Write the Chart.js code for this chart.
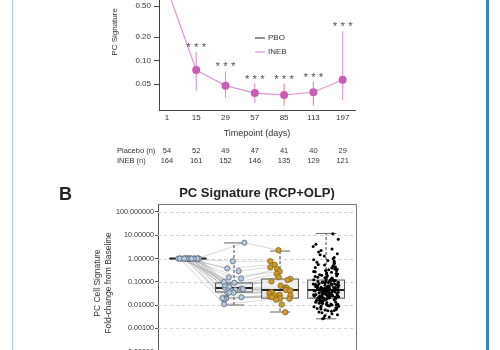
<!DOCTYPE html>
<html>
<head>
<meta charset="utf-8">
<script src="https://cdn.jsdelivr.net/npm/chart.js@4.4.1/dist/chart.umd.min.js"></script>
<style>
  html, body { margin: 0; padding: 0; background: #fff; }
  body { width: 500px; height: 350px; overflow: hidden; position: relative; }
  #topChart { position: absolute; left: 0; top: -54px; }
  #boxChart { position: absolute; left: 0; top: 170px; }
  .rule-left { position: absolute; left: 12px; top: 0; width: 1px; height: 350px; background: #a9d1ea; }
  .rule-right { position: absolute; left: 486px; top: 0; width: 3px; height: 350px; background: #2f8bc1; }
</style>
</head>
<body>
<div class="rule-left"></div>
<div class="rule-right"></div>
<canvas id="topChart" width="500" height="224"></canvas>
<canvas id="boxChart" width="500" height="200"></canvas>
<script>
// --- panel A: PC signature over time ---
const days = ['1', '15', '29', '57', '85', '113', '197'];
const inebMean = [0.85, 0.076, 0.048, 0.0385, 0.0365, 0.0395, 0.057];
const inebHigh = [null, 0.129, 0.073, 0.051, 0.051, 0.054, 0.239];
const inebLow = [null, 0.042, 0.0335, 0.029, 0.0267, 0.0267, 0.0316];
const sigMarks = ['', '***', '***', '***', '***', '***', '***'];
const placeboN = [54, 52, 49, 47, 41, 40, 29];
const inebN = [164, 161, 152, 146, 135, 129, 121];
const topTicks = [0.05, 0.1, 0.2, 0.5];
const topTickLabels = ['0.05', '0.10', '0.20', '0.50'];

// --- panel B: fold-change from baseline ---
const bTicks = [0.0001, 0.001, 0.01, 0.1, 1, 10, 100];
const bTickLabels = ['0.00010', '0.00100', '0.01000', '0.10000', '1.00000', '10.00000', '100.000000'];
const boxLow = [1, 0.0102, 0.0051, 0.0026];
const boxQ1 = [1, 0.037, 0.020, 0.020];
const boxMed = [1, 0.055, 0.045, 0.045];
const boxQ3 = [1, 0.09, 0.133, 0.12];
const boxHigh = [1, 4.7, 2.1, 12];

const baselinePts = [1, 1, 1, 1, 1, 1, 1, 1, 1, 1, 1, 1, 1, 1, 1, 1, 1, 1, 1, 1, 1, 1, 1, 1, 1];
const visit2Pts = [4.8, 0.77, 0.38, 0.29, 0.14, 0.155, 0.092, 0.067, 0.058, 0.062, 0.072, 0.051, 0.045,
  0.041, 0.049, 0.034, 0.033, 0.035, 0.021, 0.019, 0.018, 0.022, 0.02, 0.011, 0.1];
const visit3Pts = [2.3, 0.77, 0.55, 0.42, 0.36, 0.28, 0.22, 0.16, 0.134, 0.12, 0.105, 0.068, 0.058, 0.055,
  0.045, 0.043, 0.036, 0.032, 0.028, 0.027, 0.026, 0.024, 0.022, 0.0196, 0.019, 0.017, 0.0107, 0.005];
const cohortPts = [
  11.5, 6.8, 4.1, 3.3, 2.6, 2.2, 1.9, 1.6, 1.45, 1.3, 1.1, 0.98, 0.9, 0.83, 0.77, 0.7, 0.64, 0.61, 0.56, 0.53,
  0.49, 0.46, 0.44, 0.41, 0.39, 0.36, 0.35, 0.33, 0.31, 0.3, 0.28, 0.27, 0.26, 0.245, 0.23, 0.22, 0.215, 0.2, 0.195, 0.185,
  0.178, 0.17, 0.163, 0.158, 0.15, 0.146, 0.139, 0.133, 0.128, 0.123,
  0.119, 0.116, 0.113, 0.109, 0.106, 0.103, 0.099, 0.097, 0.094, 0.091, 0.089, 0.086, 0.083, 0.081, 0.079, 0.076, 0.074, 0.072, 0.07, 0.068,
  0.066, 0.065, 0.063, 0.062, 0.06, 0.059, 0.057, 0.056, 0.055, 0.054, 0.053, 0.052, 0.051, 0.05, 0.049, 0.049, 0.048, 0.047, 0.047, 0.046,
  0.046, 0.045, 0.112, 0.095, 0.084, 0.071, 0.064, 0.058, 0.052, 0.047,
  0.044, 0.044, 0.043, 0.042, 0.042, 0.041, 0.04, 0.04, 0.039, 0.038, 0.037, 0.037, 0.036, 0.035, 0.035, 0.034, 0.033, 0.033, 0.032, 0.031,
  0.031, 0.03, 0.029, 0.029, 0.028, 0.027, 0.027, 0.026, 0.026, 0.025, 0.025, 0.024, 0.024, 0.023, 0.023, 0.022, 0.022, 0.021, 0.021, 0.0205,
  0.043, 0.039, 0.036, 0.032, 0.03, 0.028, 0.025, 0.023, 0.021, 0.0202,
  0.0198, 0.0194, 0.019, 0.0186, 0.0181, 0.0177, 0.0172, 0.0168, 0.0163, 0.0158, 0.0154, 0.0149, 0.0145, 0.014, 0.0136, 0.0131, 0.0127, 0.0122, 0.0118, 0.0113,
  0.0109, 0.0105, 0.0101, 0.0097, 0.0093, 0.0089, 0.0085, 0.0081, 0.0077, 0.0073, 0.0069, 0.0066, 0.0062, 0.0058, 0.0055, 0.0051, 0.0047, 0.0043, 0.0039, 0.0035,
  0.0031, 0.0028, 0.0026, 0.0092, 0.011, 0.0135, 0.0165, 0.0188, 0.0075, 0.0059
];

const FONT = '"Liberation Sans", Arial, sans-serif';
Chart.defaults.font.family = FONT;
Chart.defaults.color = '#333';

const PAGE_SHIFT = 54; // top canvas sits 54px above the page
const errColors = ['#e08fd2', '#e08fd2', '#e08fd2', '#e08fd2', '#e8897c', '#e8897c', '#e08fd2'];

// x jitter for the dot strips: fixed hash of the index so the spread is stable
const jit = (i, w) => {
  const h = Math.sin((i + 1) * 12.9898) * 43758.5453;
  return (h - Math.floor(h) - 0.5) * w;
};

const topExtras = {
  id: 'topExtras',
  beforeDatasetsDraw(chart) {
    const { ctx } = chart;
    const xs = chart.scales.x, ys = chart.scales.y;
    ctx.save();
    ctx.lineWidth = 1.1;
    days.forEach((d, i) => {
      if (inebHigh[i] == null) return;
      const x = xs.getPixelForValue(i);
      ctx.strokeStyle = errColors[i];
      ctx.beginPath();
      ctx.moveTo(x, ys.getPixelForValue(inebHigh[i]));
      ctx.lineTo(x, ys.getPixelForValue(inebLow[i]));
      ctx.stroke();
    });
    ctx.restore();
  },
  afterDraw(chart) {
    const { ctx, chartArea } = chart;
    const xs = chart.scales.x, ys = chart.scales.y;
    ctx.save();
    // significance stars
    ctx.fillStyle = '#555';
    ctx.font = '11.5px ' + FONT;
    ctx.textAlign = 'center';
    ctx.textBaseline = 'alphabetic';
    days.forEach((d, i) => {
      if (!sigMarks[i]) return;
      const x = xs.getPixelForValue(i);
      const y = ys.getPixelForValue(inebHigh[i]) - 7;
      ctx.fillText(sigMarks[i].split('').join(' '), x, y + 6);
    });
    // legend
    ctx.font = '8px ' + FONT;
    ctx.textAlign = 'left';
    ctx.textBaseline = 'middle';
    chart.data.datasets.forEach((ds, k) => {
      const y = 38 + PAGE_SHIFT + k * 14;
      const x0 = chartArea.left + 96;
      ctx.strokeStyle = ds.borderColor;
      ctx.lineWidth = 1.2;
      ctx.beginPath();
      ctx.moveTo(x0, y);
      ctx.lineTo(x0 + 10, y);
      ctx.stroke();
      ctx.fillStyle = '#333';
      ctx.fillText(ds.label, x0 + 13, y);
    });
    // n at risk table
    ctx.font = '7.5px ' + FONT;
    ctx.fillStyle = '#333';
    const rows = [['Placebo (n)', placeboN], ['INEB (n)', inebN]];
    rows.forEach((row, r) => {
      const y = 151 + PAGE_SHIFT + r * 10;
      ctx.textAlign = 'left';
      ctx.fillText(row[0], 117, y);
      ctx.textAlign = 'center';
      row[1].forEach((n, i) => ctx.fillText(String(n), xs.getPixelForValue(i), y));
    });
    ctx.restore();
  }
};

new Chart(document.getElementById('topChart'), {
  type: 'line',
  data: {
    datasets: [
      { label: 'PBO', data: [], borderColor: '#4a4a4a' },
      {
        label: 'INEB',
        data: days.map((d, i) => ({ x: i, y: inebMean[i] })),
        borderColor: '#e296d4',
        borderWidth: 1.2,
        pointRadius: 4,
        pointBackgroundColor: '#c95db6',
        pointBorderWidth: 0,
        tension: 0
      }
    ]
  },
  options: {
    responsive: false,
    animation: false,
    devicePixelRatio: 1,
    layout: { padding: { left: 110, right: 145, top: 0, bottom: 30.6 } },
    plugins: { legend: { display: false }, tooltip: { enabled: false } },
    scales: {
      x: {
        type: 'linear',
        min: -0.27,
        max: 6.42,
        afterBuildTicks: s => { s.ticks = days.map((d, i) => ({ value: i })); },
        afterFit: s => { s.height = 29.4; },
        grid: { drawOnChartArea: false, drawTicks: false },
        border: { color: '#444', width: 1 },
        ticks: { callback: v => days[v], font: { size: 8 }, color: '#333', padding: 3, maxRotation: 0, autoSkip: false },
        title: { display: true, text: 'Timepoint (days)', font: { size: 9 }, color: '#333', padding: 0 }
      },
      y: {
        type: 'logarithmic',
        min: 0.0234,
        max: 2.34,
        afterBuildTicks: s => { s.ticks = topTicks.map(v => ({ value: v })); },
        afterFit: s => { s.width = 49; },
        grid: { drawOnChartArea: false, drawTicks: true, tickLength: 5, tickColor: '#444' },
        border: { color: '#444', width: 1 },
        ticks: { callback: (v, i) => topTickLabels[i], font: { size: 8 }, color: '#333', padding: 3, autoSkip: false },
        title: { display: true, text: 'PC Signature', font: { size: 8 }, color: '#333', padding: 0 }
      }
    }
  },
  plugins: [topExtras]
});

// --- panel B ---
const boxExtras = {
  id: 'boxExtras',
  beforeDatasetsDraw(chart) {
    const { ctx, chartArea } = chart;
    const xs = chart.scales.x, ys = chart.scales.y;
    ctx.save();
    // dashed decade grid
    ctx.strokeStyle = '#cfcfcf';
    ctx.lineWidth = 1;
    ctx.setLineDash([3, 3]);
    bTicks.forEach(v => {
      const y = Math.round(ys.getPixelForValue(v)) + 0.5;
      ctx.beginPath();
      ctx.moveTo(chartArea.left, y);
      ctx.lineTo(chartArea.right, y);
      ctx.stroke();
    });
    ctx.setLineDash([]);
    // paired lines
    ctx.strokeStyle = 'rgba(160,160,160,0.6)';
    ctx.lineWidth = 0.7;
    const strips = chart.data.datasets;
    for (let s = 0; s < 2; s++) {
      const a = strips[s].data, b = strips[s + 1].data;
      for (let i = 0; i < Math.min(a.length, b.length); i++) {
        ctx.beginPath();
        ctx.moveTo(xs.getPixelForValue(a[i].x), ys.getPixelForValue(a[i].y));
        ctx.lineTo(xs.getPixelForValue(b[i].x), ys.getPixelForValue(b[i].y));
        ctx.stroke();
      }
    }
    // boxes and whiskers
    boxMed.forEach((m, i) => {
      const xc = xs.getPixelForValue(i);
      const half = xs.getPixelForValue(i + 0.4) - xc;
      const cap = xs.getPixelForValue(i + 0.22) - xc;
      const yQ1 = ys.getPixelForValue(boxQ1[i]), yQ3 = ys.getPixelForValue(boxQ3[i]);
      const yLo = ys.getPixelForValue(boxLow[i]), yHi = ys.getPixelForValue(boxHigh[i]);
      const yMed = ys.getPixelForValue(m);
      ctx.strokeStyle = '#444';
      ctx.lineWidth = 1;
      ctx.setLineDash([3, 2]);
      ctx.beginPath();
      ctx.moveTo(xc, yQ3); ctx.lineTo(xc, yHi);
      ctx.moveTo(xc, yQ1); ctx.lineTo(xc, yLo);
      ctx.stroke();
      ctx.setLineDash([]);
      ctx.strokeStyle = '#666';
      ctx.beginPath();
      ctx.moveTo(xc - cap, yHi); ctx.lineTo(xc + cap, yHi);
      ctx.moveTo(xc - cap, yLo); ctx.lineTo(xc + cap, yLo);
      ctx.stroke();
      ctx.fillStyle = 'rgba(236,236,236,0.75)';
      ctx.fillRect(xc - half, yQ3, half * 2, yQ1 - yQ3);
      ctx.strokeStyle = '#555';
      ctx.strokeRect(xc - half, yQ3, half * 2, yQ1 - yQ3);
      ctx.strokeStyle = '#222';
      ctx.lineWidth = 2;
      ctx.beginPath();
      ctx.moveTo(xc - half, yMed); ctx.lineTo(xc + half, yMed);
      ctx.stroke();
    });
    ctx.restore();
  },
  afterDraw(chart) {
    const { ctx, chartArea } = chart;
    ctx.save();
    ctx.strokeStyle = '#777';
    ctx.lineWidth = 1;
    ctx.beginPath();
    ctx.moveTo(chartArea.left, chartArea.top + 0.5);
    ctx.lineTo(chartArea.right + 0.5, chartArea.top + 0.5);
    ctx.lineTo(chartArea.right + 0.5, chartArea.bottom);
    ctx.stroke();
    ctx.fillStyle = '#222';
    ctx.textBaseline = 'middle';
    ctx.textAlign = 'center';
    ctx.font = 'bold 13px ' + FONT;
    ctx.fillText('PC Signature (RCP+OLP)', (chartArea.left + chartArea.right) / 2, 23);
    ctx.textAlign = 'left';
    ctx.font = 'bold 18px ' + FONT;
    ctx.fillText('B', 59, 25);
    ctx.restore();
  }
};

const stripStyle = (fill, edge, r) => ({
  backgroundColor: fill, borderColor: edge, pointRadius: r, pointBorderWidth: edge ? 0.8 : 0
});

new Chart(document.getElementById('boxChart'), {
  type: 'scatter',
  data: {
    datasets: [
      { data: baselinePts.map((v, i) => ({ x: 0 + jit(i, 0.48), y: v })), ...stripStyle('#b8cce0', '#56677a', 2.6) },
      { data: visit2Pts.map((v, i) => ({ x: 1 + jit(i + 40, 0.52), y: v })), ...stripStyle('#b8cce0', '#56677a', 2.6) },
      { data: visit3Pts.map((v, i) => ({ x: 2 + jit(i + 80, 0.52), y: v })), ...stripStyle('#cc9a30', '#8c6414', 2.7) },
      { data: cohortPts.map((v, i) => ({ x: 3 + jit(i + 120, 0.56), y: v })), ...stripStyle('#000', null, 1.5) }
    ]
  },
  options: {
    responsive: false,
    animation: false,
    devicePixelRatio: 1,
    layout: { padding: { left: 93, right: 144, top: 34, bottom: 8 } },
    plugins: { legend: { display: false }, tooltip: { enabled: false } },
    scales: {
      x: { type: 'linear', min: -0.65, max: 3.65, display: false },
      y: {
        type: 'logarithmic',
        min: 3.65e-5,
        max: 220,
        afterBuildTicks: s => { s.ticks = bTicks.map(v => ({ value: v })); },
        afterFit: s => { s.width = 65; },
        grid: { drawOnChartArea: false, drawTicks: true, tickLength: 3, tickColor: '#555' },
        border: { color: '#555', width: 1 },
        ticks: { callback: (v, i) => bTickLabels[i], font: { size: 7.2 }, color: '#333', padding: 1, autoSkip: false },
        title: { display: true, text: ['PC Cell Signature', 'Fold-change from Baseline'], font: { size: 8.5 }, color: '#333', padding: 0 }
      }
    }
  },
  plugins: [boxExtras]
});
</script>
</body>
</html>
